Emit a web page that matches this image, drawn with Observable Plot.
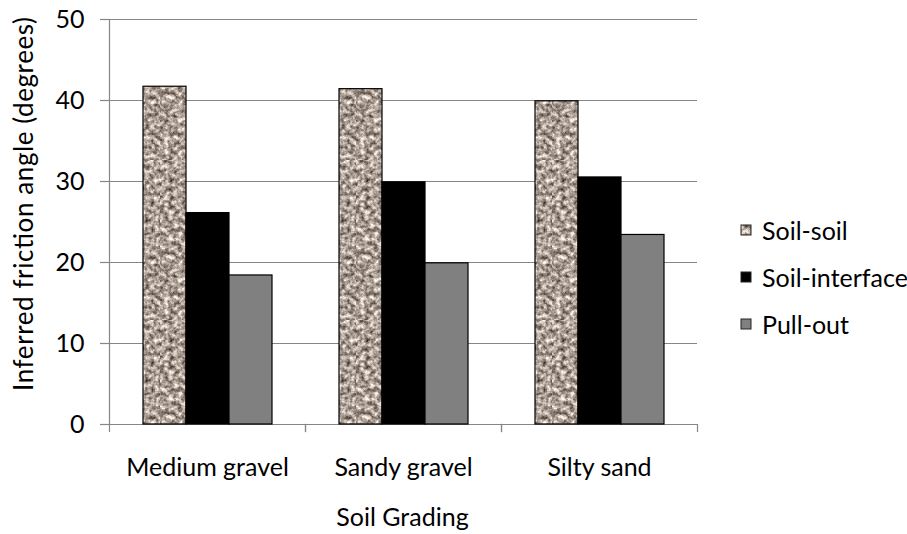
<!DOCTYPE html>
<html>
<head>
<meta charset="utf-8">
<script src="https://cdn.jsdelivr.net/npm/d3@7"></script>
<script src="https://cdn.jsdelivr.net/npm/@observablehq/plot@0.6"></script>
<style>
  body { margin: 0; background: #fff; }
  #chart { position: relative; width: 907px; height: 534px; font-family: Lato, sans-serif; }
  #chart > svg.overlay { position: absolute; left: 0; top: 0; pointer-events: none; }
</style>
</head>
<body>
<!-- granite-like texture used for the soil-soil bars -->
<svg width="0" height="0" style="position:absolute">
  <defs>
    <filter id="grain" x="0" y="0" width="100%" height="100%" color-interpolation-filters="sRGB">
      <feTurbulence type="fractalNoise" baseFrequency="0.22" numOctaves="3" seed="11" result="noise"/>
      <feColorMatrix in="noise" type="matrix"
        values="1.2 0 0 0 0.07
                1.2 0 0 0 0.02
                1.2 0 0 0 -0.02
                0 0 0 0 1" result="tint"/>
      <feGaussianBlur in="tint" stdDeviation="0.5"/>
    </filter>
    <pattern id="granite" patternUnits="userSpaceOnUse" width="160" height="160">
      <rect width="160" height="160" fill="#a89c92" filter="url(#grain)"/>
    </pattern>
  </defs>
</svg>
<div id="chart"></div>
<script>
const categories = ["Medium gravel", "Sandy gravel", "Silty sand"];
const series = ["Soil-soil", "Soil-interface", "Pull-out"];
const soilSoil = [41.7, 41.4, 39.9];
const soilInterface = [26.1, 29.9, 30.5];
const pullOut = [18.4, 19.9, 23.4];
const yTicks = [0, 10, 20, 30, 40, 50];
const seriesFills = ["url(#granite)", "#000000", "#808080"];
const xTitle = "Soil Grading";
const yTitle = "Inferred friction angle (degrees)";

const valuesBySeries = [soilSoil, soilInterface, pullOut];
const rows = categories.flatMap((category, i) =>
  series.map((s, j) => ({category, series: s, value: valuesBySeries[j][i]}))
);

const axisGray = "#868686";

const chart = Plot.plot({
  width: 907,
  height: 534,
  marginLeft: 109,
  marginRight: 210,
  marginTop: 19,
  marginBottom: 110,
  style: {fontFamily: "Lato, sans-serif", fontSize: "25px", color: "black", background: "white"},
  fx: {domain: categories, padding: 0},
  x: {domain: series, paddingInner: 0, paddingOuter: 0.75, axis: null},
  y: {domain: [0, 50], axis: null},
  color: {domain: series, range: seriesFills},
  marks: [
    Plot.gridY(yTicks, {stroke: axisGray, strokeOpacity: 1, strokeWidth: 1.2}),
    // value axis line, drawn once on the leftmost facet
    Plot.frame({anchor: "left", facetAnchor: "left", stroke: axisGray, strokeWidth: 1.2}),
    // short category-boundary ticks below the baseline
    Plot.frame({anchor: "left", stroke: axisGray, strokeWidth: 1.2, insetTop: 405, insetBottom: -7}),
    Plot.frame({anchor: "right", stroke: axisGray, strokeWidth: 1.2, insetTop: 405, insetBottom: -7}),
    Plot.ruleY([0], {stroke: axisGray, strokeWidth: 1.2}),
    Plot.barY(rows, {fx: "category", x: "series", y: "value", fill: "series", stroke: "black", strokeWidth: 1.2}),
    Plot.axisY({ticks: yTicks, tickSize: 9, tickPadding: 16, stroke: axisGray, strokeWidth: 1.2, fill: "black",
                fontSize: 25, label: null}),
    Plot.axisFx({anchor: "bottom", tickSize: 0, tickPadding: 34, fill: "black", fontSize: 25, label: null})
  ]
});

const root = document.getElementById("chart");
root.appendChild(chart);

// axis titles and legend drawn on an overlay layer
const color = chart.scale("color");
const overlay = d3.select(root).append("svg")
  .attr("class", "overlay")
  .attr("width", 907)
  .attr("height", 534)
  .style("font-family", "Lato, sans-serif")
  .style("font-size", "25px");

overlay.append("text")
  .attr("transform", "translate(33,204) rotate(-90)")
  .attr("text-anchor", "middle")
  .attr("fill", "black")
  .style("font-size", "26px")
  .attr("textLength", 374)
  .attr("lengthAdjust", "spacing")
  .text(yTitle);

overlay.append("text")
  .attr("x", 402.5)
  .attr("y", 526)
  .attr("text-anchor", "middle")
  .attr("fill", "black")
  .text(xTitle);

const legend = overlay.append("g").attr("transform", "translate(741,225)");
const item = legend.selectAll("g")
  .data(color.domain)
  .join("g")
  .attr("transform", (d, i) => `translate(0,${i * 47})`);
item.append("rect")
  .attr("width", 10)
  .attr("height", 10)
  .attr("fill", (d, i) => color.range[i])
  .attr("stroke", "#222")
  .attr("stroke-width", 1);
item.append("text")
  .attr("x", 21)
  .attr("y", 15)
  .attr("fill", "black")
  .text(d => d);
</script>
</body>
</html>
